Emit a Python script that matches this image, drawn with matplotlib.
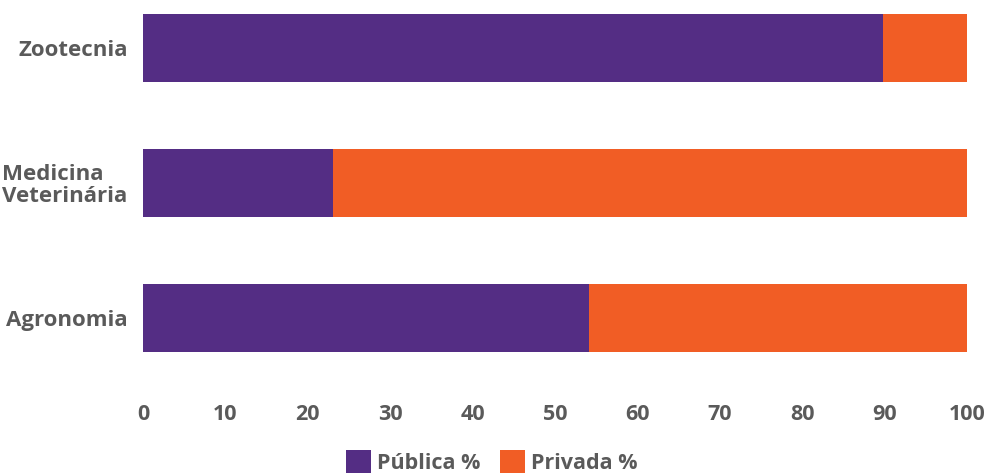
import matplotlib.pyplot as plt

cursos = ["Agronomia", "Medicina\nVeterinária", "Zootecnia"]
publica = [54.1, 23.0, 89.8]
privada = [45.9, 77.0, 10.2]

roxo = "#542D84"
laranja = "#F15D25"
cinza = "#5A5A5A"

plt.rcParams["font.family"] = ["Open Sans", "DejaVu Sans"]
plt.rcParams["font.weight"] = "bold"

fig = plt.figure(figsize=(9.85, 4.76), dpi=100)
ax = fig.add_axes([143 / 985, 1 - 380 / 476, 824 / 985, 380 / 476])

pos = range(len(cursos))
b1 = ax.barh(pos, publica, height=0.5, color=roxo, label="Pública %")
b2 = ax.barh(pos, privada, left=publica, height=0.5, color=laranja, label="Privada %")

ax.set_xlim(0, 100)
ax.set_ylim(-(380 - 318) / 135, 2 + 48 / 135)
ax.set_xticks(range(0, 101, 10))
ax.set_yticks(list(pos))
ax.set_yticklabels(cursos, fontsize=16, color=cinza, fontweight="bold",
                   linespacing=1.05, multialignment="left")
for t in ax.get_xticklabels():
    t.set_fontsize(15.5)
    t.set_color(cinza)
    t.set_fontweight("bold")
ax.tick_params(axis="x", length=0, pad=17)
ax.tick_params(axis="y", length=0, pad=11)
for s in ax.spines.values():
    s.set_visible(False)

# legenda centrada embaixo do gráfico
fig.legend(handles=[b1, b2], loc="center", bbox_to_anchor=(492 / 985, 1 - 462 / 476),
           ncol=2, frameon=False, labelcolor=cinza, borderpad=0.2,
           handlelength=1.15, handleheight=1.3, handletextpad=0.3, columnspacing=0.9,
           prop={"weight": "bold", "size": 15.5})

fig.savefig("out.png", dpi=100)
